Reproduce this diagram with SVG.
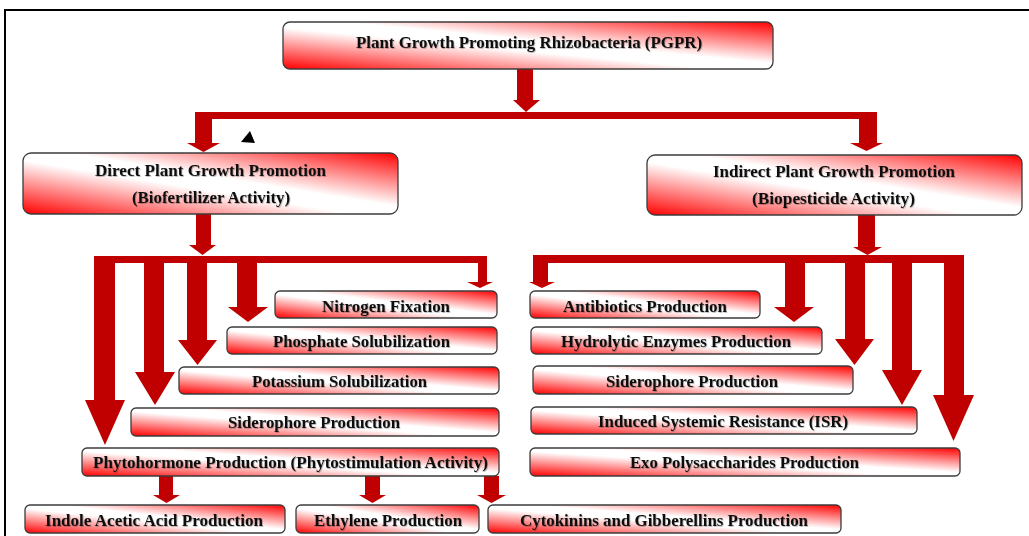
<svg xmlns="http://www.w3.org/2000/svg" width="1029" height="536" viewBox="0 0 1029 536">
<style>
.box{fill:url(#grad);stroke:#3c3c3c;stroke-width:1.3}
.t{font-family:"Liberation Serif","Times New Roman",serif;font-weight:bold;font-size:16px;fill:#111;filter:url(#ts)}
.arr{fill:#c00000}
.frame{stroke:#000;stroke-width:2;fill:none}
</style>
<defs>
<linearGradient id="grad" x1="0" y1="1" x2="1" y2="0">
<stop offset="0" stop-color="#ff0000"/>
<stop offset="0.44" stop-color="#ffffff"/>
<stop offset="0.56" stop-color="#ffffff"/>
<stop offset="1" stop-color="#ff0000"/>
</linearGradient>
<filter id="ts" x="-5%" y="-30%" width="110%" height="160%">
<feDropShadow dx="0.8" dy="0.8" stdDeviation="0.4" flood-color="#000" flood-opacity="0.3"/>
</filter>
</defs>
<rect width="1029" height="536" fill="#fff"/>
<path class="frame" d="M5 536 V10 H1029"/>
<polygon points="250,131 241,142 255,143" fill="#000"/>

<g id="connectors">
<polygon class="arr" points="517,69 533,69 533,100 540,100 526,112 513,100 517,100"/>
<rect class="arr" x="195" y="112" width="682" height="7"/>
<polygon class="arr" points="195,112 212,112 212,143 220,143 203.5,152 187,143 195,143"/>
<polygon class="arr" points="859,112 877,112 877,143 883,143 866.5,151 850,143 859,143"/>
<polygon class="arr" points="196,214 211,214 211,245 216,245 202.5,255 189,245 196,245"/>
<rect class="arr" x="94" y="256" width="393" height="7"/>
<polygon class="arr" points="94,256 115,256 115,400 125,400 105,445 85,400 94,400"/>
<polygon class="arr" points="144,256 164,256 164,372 175,372 155,405 135,372 144,372"/>
<polygon class="arr" points="187,256 207,256 207,340 217,340 197.5,365 178,340 187,340"/>
<polygon class="arr" points="237,256 257,256 257,307 268,307 248,322 228,307 237,307"/>
<polygon class="arr" points="478,256 487,256 487,282 493,282 480,288 467,282 478,282"/>
<polygon class="arr" points="858,215 875,215 875,247 882,247 867.5,255 853,247 858,247"/>
<rect class="arr" x="533" y="255" width="431" height="8"/>
<polygon class="arr" points="533,255 548,255 548,282 555,282 542,288 529,282 533,282"/>
<polygon class="arr" points="785,255 805,255 805,307 814,307 794,322 774,307 785,307"/>
<polygon class="arr" points="845,255 865,255 865,339 874,339 854.5,365 835,339 845,339"/>
<polygon class="arr" points="892,255 912,255 912,370 922,370 902,405 882,370 892,370"/>
<polygon class="arr" points="944,255 964,255 964,395 974,395 953.5,441 933,395 944,395"/>
<polygon class="arr" points="159,476 173,476 173,495 180,495 166.5,503 153,495 159,495"/>
<polygon class="arr" points="365,476 380,476 380,495 386,495 372.5,503 359,495 365,495"/>
<polygon class="arr" points="484,476 499,476 499,495 506,495 491.5,503 477,495 484,495"/>
</g>

<g id="pgpr"><rect class="box" x="283" y="22" width="490" height="47" rx="7"/>
<text class="t" x="356" y="48" textLength="346" lengthAdjust="spacingAndGlyphs">Plant Growth Promoting Rhizobacteria (PGPR)</text></g>

<g id="direct"><rect class="box" x="23" y="153" width="375" height="61" rx="8"/>
<text class="t" x="95" y="176" textLength="231" lengthAdjust="spacingAndGlyphs">Direct Plant Growth Promotion</text>
<text class="t" x="132" y="203" textLength="158" lengthAdjust="spacingAndGlyphs">(Biofertilizer Activity)</text></g>

<g id="indirect"><rect class="box" x="647" y="155" width="375" height="60" rx="8"/>
<text class="t" x="713" y="177" textLength="242" lengthAdjust="spacingAndGlyphs">Indirect Plant Growth Promotion</text>
<text class="t" x="752" y="204" textLength="163" lengthAdjust="spacingAndGlyphs">(Biopesticide Activity)</text></g>

<g id="nitrogen"><rect class="box" x="275" y="291" width="222" height="27" rx="5"/>
<text class="t" x="322" y="312" textLength="128" lengthAdjust="spacingAndGlyphs">Nitrogen Fixation</text></g>

<g id="phosphate"><rect class="box" x="227" y="327" width="270" height="27" rx="5"/>
<text class="t" x="273" y="347" textLength="177" lengthAdjust="spacingAndGlyphs">Phosphate Solubilization</text></g>

<g id="potassium"><rect class="box" x="179" y="367" width="320" height="27" rx="5"/>
<text class="t" x="252" y="387" textLength="175" lengthAdjust="spacingAndGlyphs">Potassium Solubilization</text></g>

<g id="siderophore-direct"><rect class="box" x="131" y="408" width="368" height="28" rx="5"/>
<text class="t" x="228" y="428" textLength="172" lengthAdjust="spacingAndGlyphs">Siderophore Production</text></g>

<g id="phytohormone"><rect class="box" x="82" y="448" width="417" height="28" rx="5"/>
<text class="t" x="93" y="468" textLength="395" lengthAdjust="spacingAndGlyphs">Phytohormone Production (Phytostimulation Activity)</text></g>

<g id="indole"><rect class="box" x="25" y="505" width="260" height="28" rx="5"/>
<text class="t" x="45" y="526" textLength="218" lengthAdjust="spacingAndGlyphs">Indole Acetic Acid Production</text></g>

<g id="ethylene"><rect class="box" x="296" y="505" width="183" height="28" rx="5"/>
<text class="t" x="314" y="526" textLength="148" lengthAdjust="spacingAndGlyphs">Ethylene Production</text></g>

<g id="cytokinins"><rect class="box" x="488" y="505" width="353" height="28" rx="5"/>
<text class="t" x="520" y="526" textLength="288" lengthAdjust="spacingAndGlyphs">Cytokinins and Gibberellins Production</text></g>

<g id="antibiotics"><rect class="box" x="530" y="291" width="230" height="27" rx="5"/>
<text class="t" x="563" y="312" textLength="164" lengthAdjust="spacingAndGlyphs">Antibiotics Production</text></g>

<g id="hydrolytic"><rect class="box" x="531" y="327" width="291" height="27" rx="5"/>
<text class="t" x="561" y="347" textLength="230" lengthAdjust="spacingAndGlyphs">Hydrolytic Enzymes Production</text></g>

<g id="siderophore-indirect"><rect class="box" x="533" y="366" width="320" height="28" rx="5"/>
<text class="t" x="606" y="387" textLength="172" lengthAdjust="spacingAndGlyphs">Siderophore Production</text></g>

<g id="isr"><rect class="box" x="531" y="407" width="386" height="27" rx="5"/>
<text class="t" x="598" y="427" textLength="250" lengthAdjust="spacingAndGlyphs">Induced Systemic Resistance (ISR)</text></g>

<g id="exo"><rect class="box" x="530" y="448" width="430" height="28" rx="5"/>
<text class="t" x="630" y="468" textLength="229" lengthAdjust="spacingAndGlyphs">Exo Polysaccharides Production</text></g>
</svg>
